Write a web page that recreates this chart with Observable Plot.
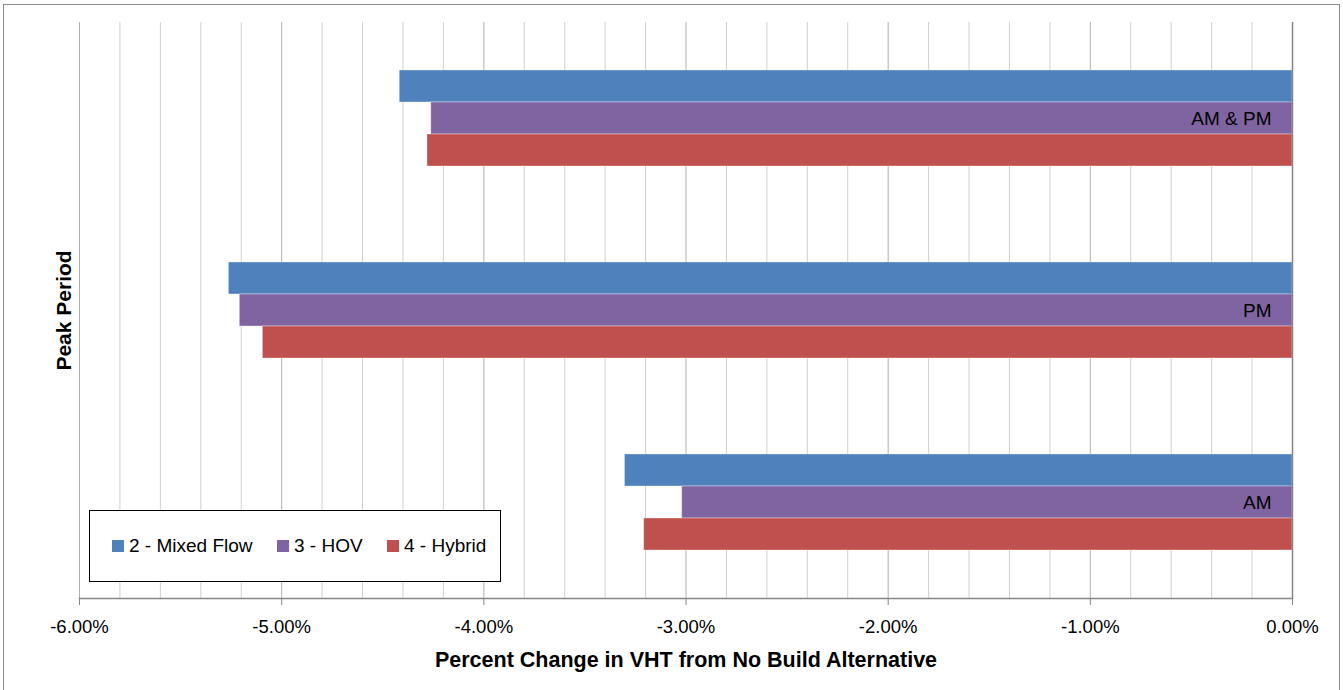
<!DOCTYPE html>
<html>
<head>
<meta charset="utf-8">
<script src="https://cdn.jsdelivr.net/npm/d3@7"></script>
<script src="https://cdn.jsdelivr.net/npm/@observablehq/plot@0.6"></script>
<style>
  html, body { margin: 0; padding: 0; background: #fff; }
  #wrap { position: relative; width: 1343px; height: 690px; overflow: hidden; font-family: "Liberation Sans", Arial, sans-serif; }
  #wrap svg { position: absolute; left: 0; top: 0; }
  #border { position: absolute; left: 3px; top: 4px; width: 1337px; height: 700px; border: 1.5px solid #8a8a8a; box-sizing: border-box; pointer-events: none; }
  #legend { position: absolute; left: 89px; top: 510px; width: 412px; height: 72px; border: 1.3px solid #000; background: #fff; box-sizing: border-box; display: flex; align-items: center; font-size: 19px; color: #000; }
  #legend .item { display: flex; align-items: center; position: absolute; top: 24px; }
  #legend .sw { width: 12px; height: 12px; margin-right: 5px; }
</style>
</head>
<body>
<div id="wrap"></div>
<script>
// ---- data ----
const categories = ["AM & PM", "PM", "AM"];
const seriesNames = ["2 - Mixed Flow", "3 - HOV", "4 - Hybrid"];
const mixedFlow = [-4.416, -5.261, -3.302];
const hov = [-4.260, -5.207, -3.019];
const hybrid = [-4.279, -5.093, -3.207];
const seriesColors = ["#4F81BD", "#8064A2", "#C0504D"];
const majorTicks = [-6, -5, -4, -3, -2, -1, 0];
const majorTickLabels = ["-6.00%", "-5.00%", "-4.00%", "-3.00%", "-2.00%", "-1.00%", "0.00%"];
const minorTicks = [-5.8, -5.6, -5.4, -5.2, -4.8, -4.6, -4.4, -4.2, -3.8, -3.6, -3.4, -3.2,
                    -2.8, -2.6, -2.4, -2.2, -1.8, -1.6, -1.4, -1.2, -0.8, -0.6, -0.4, -0.2];
const xTitle = "Percent Change in VHT from No Build Alternative";
const yTitle = "Peak Period";

// ---- chart ----
const seriesValues = [mixedFlow, hov, hybrid];
const labelMap = new Map(majorTicks.map((t, i) => [t, majorTickLabels[i]]));
const W = 1343, H = 690;
const mTop = 22, mBottom = 92, mLeft = 79, mRight = 51;
const bandStep = (H - mTop - mBottom) / 3;
const bandwidth = bandStep * 0.5;
const barH = bandwidth / seriesNames.length;

const barMarks = seriesValues.map((vals, k) =>
  Plot.barX(categories, {
    y: d => d,
    x: (d, i) => vals[i],
    fill: seriesColors[k],
    stroke: "#ffffff",
    strokeOpacity: 0.35,
    strokeWidth: 1,
    insetTop: k * barH,
    insetBottom: (seriesNames.length - 1 - k) * barH
  })
);

const chart = Plot.plot({
  width: W,
  height: H,
  marginTop: mTop,
  marginBottom: mBottom,
  marginLeft: mLeft,
  marginRight: mRight,
  style: { fontFamily: "Liberation Sans, Arial, sans-serif", background: "transparent", color: "#000", overflow: "visible" },
  x: { domain: [-6, 0] },
  y: { domain: categories, paddingInner: 0.5, paddingOuter: 0.25, axis: null },
  marks: [
    Plot.gridX(minorTicks, { stroke: "#cfcfcf", strokeOpacity: 1 }),
    Plot.gridX(majorTicks, { stroke: "#b0b0b0", strokeOpacity: 1 }),
    ...barMarks,
    Plot.ruleX([0], { stroke: "#868686", strokeWidth: 1.5 }),
    Plot.frame({ anchor: "bottom", stroke: "#868686", strokeWidth: 1.5 }),
    Plot.axisX(majorTicks, {
      tickFormat: d => labelMap.get(d),
      tickSize: 7,
      tickPadding: 14,
      fontSize: 18.5,
      stroke: "#868686",
      fill: "#000",
      label: null
    }),
    Plot.text(categories, {
      y: d => d,
      text: d => d,
      frameAnchor: "right",
      dx: -21,
      textAnchor: "end",
      fontSize: 19,
      fill: "#000"
    }),
    Plot.text([yTitle], {
      text: d => d,
      frameAnchor: "left",
      dx: -15,
      rotate: -90,
      textAnchor: "middle",
      lineAnchor: "middle",
      fontSize: 21,
      fontWeight: "bold",
      fill: "#000"
    }),
    Plot.text([xTitle], {
      text: d => d,
      frameAnchor: "bottom",
      dy: 62,
      textAnchor: "middle",
      lineAnchor: "middle",
      fontSize: 21.5,
      fontWeight: "bold",
      fill: "#000"
    })
  ]
});

const wrap = document.getElementById("wrap");
wrap.appendChild(chart);

// legend (inside plot area, as in the reference)
const legend = document.createElement("div");
legend.id = "legend";
const legendLefts = [22, 187, 297];
seriesNames.forEach((name, k) => {
  const item = document.createElement("div");
  item.className = "item";
  item.style.left = legendLefts[k] + "px";
  const sw = document.createElement("span");
  sw.className = "sw";
  sw.style.background = seriesColors[k];
  const tx = document.createElement("span");
  tx.textContent = name;
  item.appendChild(sw);
  item.appendChild(tx);
  legend.appendChild(item);
});
wrap.appendChild(legend);

const border = document.createElement("div");
border.id = "border";
wrap.appendChild(border);
</script>
</body>
</html>
